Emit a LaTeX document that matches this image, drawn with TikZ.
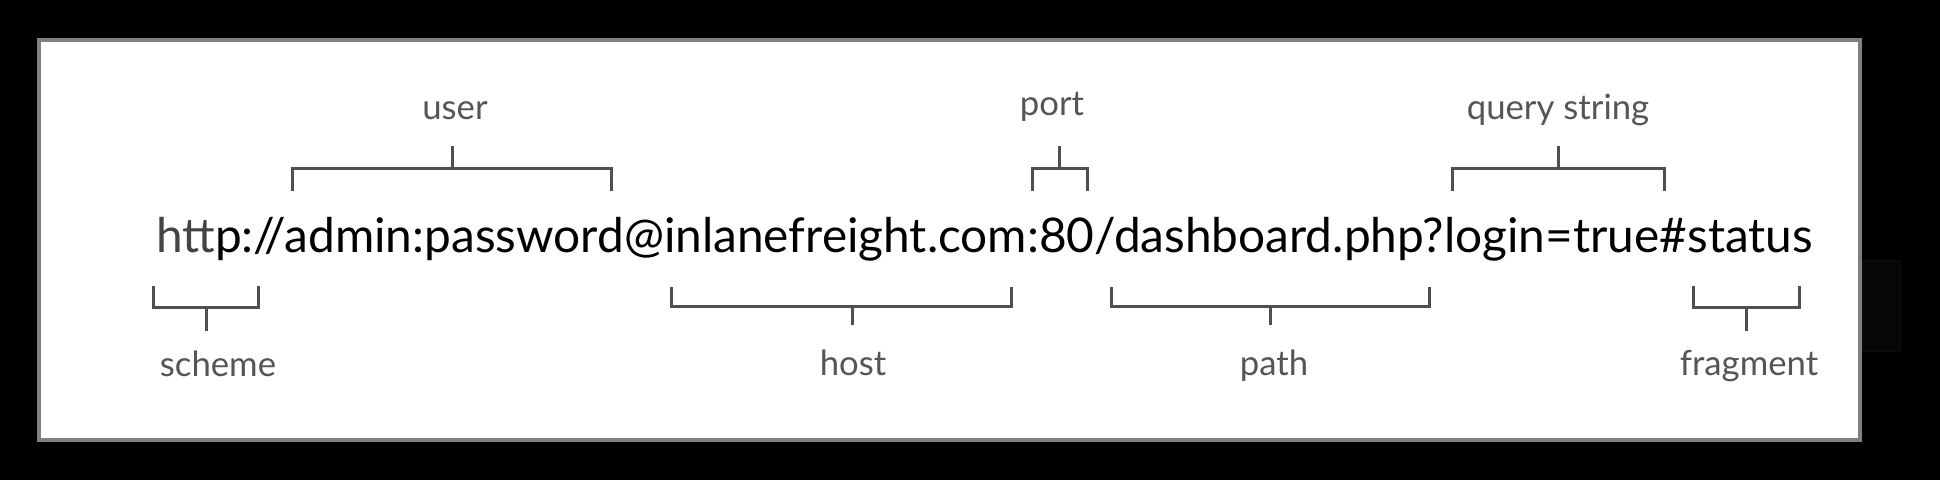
\documentclass[tikz,border=0pt]{standalone}
\usepackage{fontspec}
\setmainfont{Lato}
\usepackage{graphicx}
\definecolor{framegray}{HTML}{808080}
\definecolor{brackgray}{HTML}{4F4F4F}
\definecolor{labgray}{HTML}{555555}
\definecolor{httgray}{HTML}{444444}
\definecolor{ghost}{HTML}{070707}
\definecolor{ghostedge}{HTML}{0E0E0E}
\tikzset{
  brack/.style={draw=brackgray, line width=3pt, line cap=butt, line join=miter},
  lab/.style={text=labgray, font=\fontsize{34.7}{38}\selectfont, inner sep=0pt, anchor=base},
}
\begin{document}
\begin{tikzpicture}[x=1pt,y=-1pt]
\useasboundingbox (0,0) rectangle (1940,480);
\fill[black] (0,0) rectangle (1940,480);
% faint artefact to the right of the frame
\draw[fill=ghost, draw=ghostedge, line width=1pt] (1862,260) rectangle (1900,351);
% frame
\draw[draw=framegray, fill=white, line width=4pt] (39,40) rectangle (1860,440);
% URL
\node[inner sep=0pt, anchor=base west] (url) at (156,252)
  {\resizebox{1656pt}{!}{\color{black}{\color{httgray}htt}p://admin:password@inlanefreight.com:80/dashboard.php?login=true\#status}};
% labels
\node[lab] (user) at (455,119) {user};
\node[lab] (port) at (1052,115) {port};
\node[lab] (query) at (1558,119) {query string};
\node[lab] (scheme) at (218,376) {scheme};
\node[lab] (host) at (853,375) {host};
\node[lab] (path) at (1274,375) {path};
\node[lab] (fragment) at (1749,375) {fragment};
% top brackets
\coordinate (u1) at (292,191); \coordinate (u2) at (611,191);
\coordinate (um) at (452,168); \coordinate (ut) at (452,146);
\draw[brack] (u1) |- (u2 |- um) -- (u2);
\draw[brack] (um) -- (ut);
\coordinate (p1) at (1032,191); \coordinate (p2) at (1087,191);
\coordinate (pm) at (1059,168); \coordinate (pt) at (1059,146);
\draw[brack] (p1) |- (p2 |- pm) -- (p2);
\draw[brack] (pm) -- (pt);
\coordinate (q1) at (1452,191); \coordinate (q2) at (1664,191);
\coordinate (qm) at (1558,168); \coordinate (qt) at (1558,146);
\draw[brack] (q1) |- (q2 |- qm) -- (q2);
\draw[brack] (qm) -- (qt);
% bottom brackets
\coordinate (s1) at (153,286); \coordinate (s2) at (258,286);
\coordinate (sm) at (206,307); \coordinate (sb) at (206,331);
\draw[brack] (s1) |- (s2 |- sm) -- (s2);
\draw[brack] (sm) -- (sb);
\coordinate (h1) at (671,287); \coordinate (h2) at (1011,287);
\coordinate (hm) at (852,306); \coordinate (hb) at (852,325);
\draw[brack] (h1) |- (h2 |- hm) -- (h2);
\draw[brack] (hm) -- (hb);
\coordinate (a1) at (1111,287); \coordinate (a2) at (1429,287);
\coordinate (am) at (1270,306); \coordinate (ab) at (1270,325);
\draw[brack] (a1) |- (a2 |- am) -- (a2);
\draw[brack] (am) -- (ab);
\coordinate (f1) at (1693,286); \coordinate (f2) at (1799,286);
\coordinate (fm) at (1746,307); \coordinate (fb) at (1746,331);
\draw[brack] (f1) |- (f2 |- fm) -- (f2);
\draw[brack] (fm) -- (fb);
\end{tikzpicture}
\end{document}
